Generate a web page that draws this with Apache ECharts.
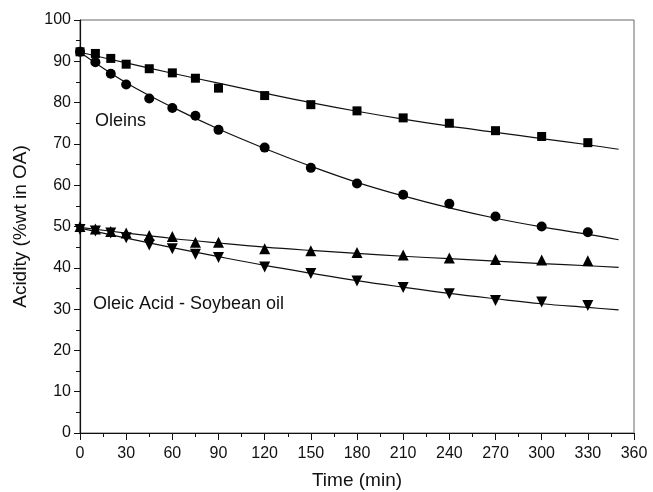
<!DOCTYPE html>
<html>
<head>
    <meta charset="UTF-8">
    <title>Acidity vs time</title>
    <script src="https://cdn.jsdelivr.net/npm/echarts@6/dist/echarts.min.js"></script>
    <style>
        html, body { margin: 0; padding: 0; background: #fff; }
        #main { width: 653px; height: 492px; }
    </style>
</head>
<body>
    <div id="main"></div>
    <script>
        // measured points
        var times = [0, 10, 20, 30, 45, 60, 75, 90, 120, 150, 180, 210, 240, 270, 300, 330];
        var oleinSquares = [92.3, 91.9, 90.7, 89.3, 88.2, 87.2, 85.9, 83.5, 81.7, 79.5, 78.0, 76.3, 75.0, 73.2, 71.8, 70.3];
        var oleinCircles = [92.3, 89.8, 87.0, 84.4, 81.0, 78.7, 76.8, 73.4, 69.1, 64.2, 60.4, 57.7, 55.5, 52.4, 50.0, 48.6];
        var soyUp = [50.0, 49.4, 48.8, 48.4, 47.8, 47.6, 46.2, 46.2, 44.6, 44.1, 43.7, 43.1, 42.4, 42.0, 41.9, 41.7];
        var soyDown = [49.3, 48.9, 48.4, 47.3, 45.5, 44.6, 43.3, 42.5, 40.2, 38.6, 36.8, 35.2, 33.7, 32.1, 31.7, 30.9];

        // fitted curves
        var fitTimes = [0, 30, 60, 90, 120, 150, 180, 210, 240, 270, 300, 330, 350];
        var fitSquares = [92.2, 89.6, 87.1, 84.7, 82.3, 80.0, 77.9, 76.0, 74.3, 72.8, 71.3, 69.8, 68.7];
        var fitCircles = [92.2, 84.8, 78.9, 73.6, 68.9, 64.6, 60.7, 57.4, 54.5, 52.0, 49.9, 48.1, 46.8];
        var fitUp = [49.8, 48.4, 47.1, 46.0, 45.0, 44.2, 43.5, 42.8, 42.2, 41.6, 41.0, 40.5, 40.1];
        var fitDown = [49.6, 47.2, 44.9, 42.7, 40.6, 38.7, 36.9, 35.3, 33.8, 32.5, 31.3, 30.4, 29.8];

        function pairs(xs, ys) {
            return xs.map(function (x, i) { return [x, ys[i]]; });
        }

        function fitLine(ys) {
            return {
                type: 'line',
                data: pairs(fitTimes, ys),
                smooth: 0.4,
                showSymbol: false,
                silent: true,
                z: 1,
                lineStyle: { color: '#111', width: 1.2 }
            };
        }

        function points(ys, symbol, size, rotate) {
            return {
                type: 'scatter',
                data: pairs(times, ys),
                symbol: symbol,
                symbolSize: size,
                symbolRotate: rotate || 0,
                z: 3,
                itemStyle: { color: '#000', opacity: 1 }
            };
        }

        var chart = echarts.init(document.getElementById('main'));
        var font = 'Liberation Sans, Arial, sans-serif';

        var option = {
            backgroundColor: '#fff',
            animation: false,
            grid: {
                left: 80, right: 19, top: 20, bottom: 59,
                outerBoundsMode: 'none',
                containLabel: false,
                show: true, borderColor: '#666', borderWidth: 1
            },
            xAxis: {
                type: 'value',
                min: 0, max: 360, interval: 30,
                name: 'Time (min)',
                nameLocation: 'middle',
                nameGap: 38,
                nameTextStyle: { fontSize: 19, color: '#111', fontFamily: font },
                axisLine: { show: true, lineStyle: { color: '#111', width: 1.2 } },
                axisTick: { show: true, length: 7, lineStyle: { color: '#111' } },
                minorTick: { show: true, splitNumber: 2, length: 4, lineStyle: { color: '#111' } },
                splitLine: { show: false },
                axisLabel: { fontSize: 16, color: '#111', fontFamily: font, margin: 13 }
            },
            yAxis: {
                type: 'value',
                min: 0, max: 100, interval: 10,
                name: 'Acidity (%wt in OA)',
                nameLocation: 'middle',
                nameGap: 50,
                nameTextStyle: { fontSize: 19, color: '#111', fontFamily: font },
                axisLine: { show: true, lineStyle: { color: '#111', width: 1.2 } },
                axisTick: { show: true, length: 6, lineStyle: { color: '#111' } },
                minorTick: { show: true, splitNumber: 2, length: 4, lineStyle: { color: '#111' } },
                splitLine: { show: false },
                axisLabel: { fontSize: 16, color: '#111', fontFamily: font, margin: 9 }
            },
            graphic: [
                { type: 'text', left: 95, top: 112, style: { text: 'Oleins', fontSize: 18, fill: '#111', fontFamily: font } },
                { type: 'text', left: 93, top: 295, style: { text: 'Oleic Acid - Soybean oil', fontSize: 18, fill: '#111', fontFamily: font } }
            ],
            series: [
                fitLine(fitSquares),
                fitLine(fitCircles),
                fitLine(fitUp),
                fitLine(fitDown),
                points(oleinSquares, 'rect', 9),
                points(oleinCircles, 'circle', 10),
                points(soyUp, 'triangle', 11),
                points(soyDown, 'triangle', 11, 180)
            ]
        };

        chart.setOption(option);
    </script>
</body>
</html>
